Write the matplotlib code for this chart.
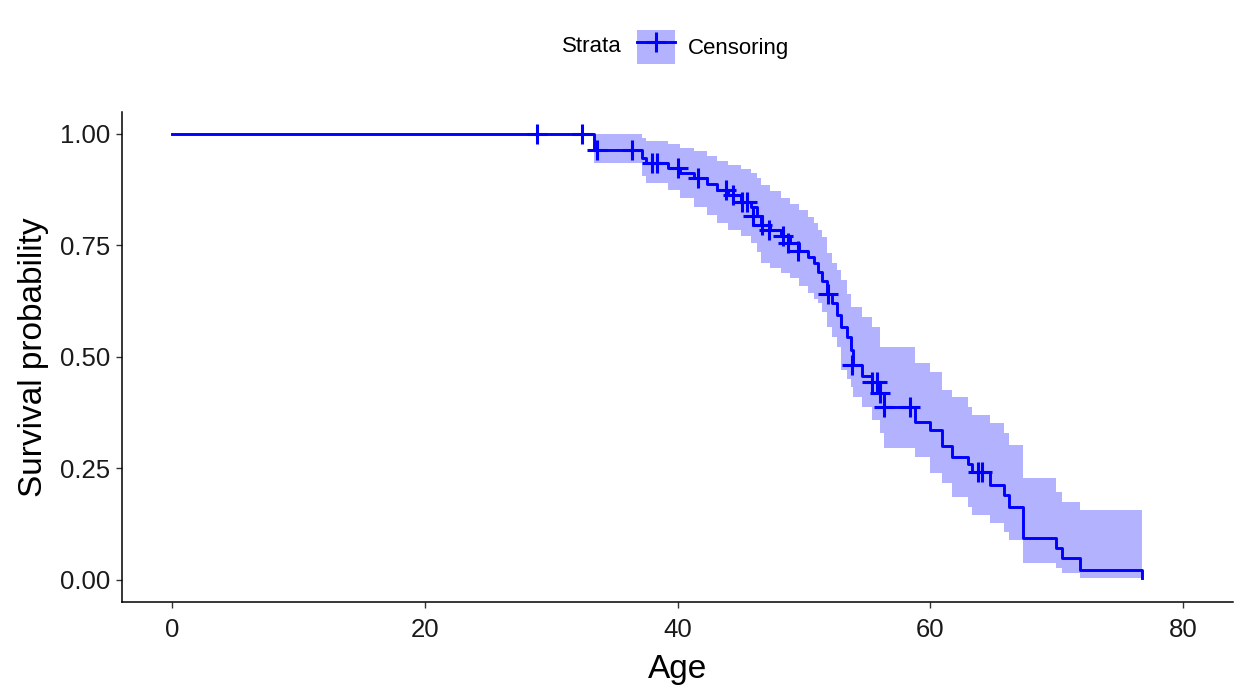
import numpy as np
import matplotlib
matplotlib.use("Agg")
import matplotlib.pyplot as plt
from matplotlib.patches import Patch
from matplotlib.lines import Line2D
from matplotlib.legend_handler import HandlerTuple

plt.rcParams['font.family'] = ['Liberation Sans', 'DejaVu Sans']

# Kaplan-Meier steps: time, survival, lower CI, upper CI
time = [0, 33.4, 37.2, 37.5, 39.2, 40.2, 41.3, 42.3, 43.1, 44.0, 45.0, 45.8,
        46.3, 46.6, 47.3, 48.2, 48.9, 49.6, 50.3, 50.8, 51.1, 51.4, 51.8, 52.2,
        52.6, 52.9, 53.4, 53.7, 53.9, 54.6, 55.4, 56.0, 56.3, 58.8, 60.0, 60.9,
        61.7, 63.0, 63.3, 64.7, 65.8, 66.2, 67.3, 69.9, 70.4, 71.8, 76.75]
surv = [1.000, 0.963, 0.946, 0.935, 0.924, 0.913, 0.900, 0.888, 0.875, 0.862,
        0.848, 0.836, 0.815, 0.796, 0.785, 0.770, 0.755, 0.738, 0.725, 0.710,
        0.690, 0.670, 0.640, 0.620, 0.595, 0.567, 0.545, 0.515, 0.482, 0.458,
        0.444, 0.419, 0.388, 0.355, 0.336, 0.300, 0.276, 0.260, 0.242, 0.213,
        0.190, 0.164, 0.094, 0.072, 0.049, 0.022, 0.005]
lower = [1.000, 0.935, 0.905, 0.890, 0.874, 0.857, 0.836, 0.818, 0.800, 0.785,
         0.770, 0.756, 0.735, 0.711, 0.700, 0.688, 0.676, 0.660, 0.643, 0.630,
         0.621, 0.600, 0.567, 0.545, 0.522, 0.471, 0.450, 0.433, 0.410, 0.388,
         0.359, 0.330, 0.296, 0.276, 0.240, 0.217, 0.186, 0.164, 0.146, 0.128,
         0.108, 0.090, 0.038, 0.027, 0.016, 0.004, 0.004]
upper = [1.000, 1.000, 0.991, 0.984, 0.978, 0.969, 0.962, 0.950, 0.940, 0.930,
         0.922, 0.912, 0.900, 0.885, 0.872, 0.856, 0.842, 0.830, 0.814, 0.800,
         0.785, 0.769, 0.733, 0.711, 0.695, 0.673, 0.640, 0.612, 0.612, 0.590,
         0.567, 0.522, 0.522, 0.487, 0.466, 0.426, 0.410, 0.388, 0.370, 0.352,
         0.330, 0.303, 0.229, 0.197, 0.175, 0.157, 0.157]

# censored observations
cens_t = [28.9, 32.4, 33.6, 36.4, 38.0, 38.4, 40.0, 41.6, 43.8, 44.4, 45.1,
          45.5, 46.0, 46.7, 47.2, 48.3, 48.7, 49.5, 51.9, 53.8, 55.4, 55.8,
          56.0, 56.3, 58.4, 63.8, 64.1]
cens_s = [1.000, 1.000, 0.963, 0.963, 0.935, 0.935, 0.924, 0.900, 0.875, 0.862,
          0.848, 0.848, 0.815, 0.796, 0.785, 0.770, 0.755, 0.738, 0.640, 0.482,
          0.444, 0.444, 0.419, 0.388, 0.388, 0.242, 0.242]

col = '#0000FF'

fig = plt.figure(figsize=(12.45, 6.91), dpi=100)
ax = fig.add_axes([0.098, 0.129, 0.892, 0.709])

ax.fill_between(time, lower, upper, step='post', color=col, alpha=0.3, lw=0)
ax.step(time, surv, where='post', color=col, lw=2.1)
ax.plot(cens_t, cens_s, ls='none', marker='+', ms=14, mew=2.2, color=col)

ax.set_xlim(-3.96, 83.9)
ax.set_ylim(-0.049, 1.049)
ax.set_xticks([0, 20, 40, 60, 80])
ax.set_yticks([0, 0.25, 0.5, 0.75, 1.0])
ax.set_yticklabels(['0.00', '0.25', '0.50', '0.75', '1.00'])
ax.tick_params(labelsize=18.5, length=4.5, width=1, colors='#333333',
               labelcolor='#1a1a1a')
ax.tick_params(axis='x', pad=7)
ax.tick_params(axis='y', pad=4)
for s in ['top', 'right']:
    ax.spines[s].set_visible(False)
for s in ['left', 'bottom']:
    ax.spines[s].set_linewidth(1.1)
ax.set_xlabel('Age', fontsize=24, labelpad=9)
ax.set_ylabel('Survival probability', fontsize=24, labelpad=8)

# legend on top
fig.text(0.4996, 0.932, 'Strata', fontsize=16, ha='right', va='center')
h = (Patch(facecolor=col, alpha=0.3, lw=0),
     Line2D([], [], color=col, lw=2.1, marker='+', ms=14, mew=2.2))
fig.legend([h], ['Censoring'], handler_map={tuple: HandlerTuple(ndivide=1, pad=0)},
           loc='center left', bbox_to_anchor=(0.5116, 0.932), frameon=False,
           fontsize=16, borderpad=0, borderaxespad=0, handlelength=1.7,
           handleheight=2.0, handletextpad=0.6)

fig.savefig('out.png', dpi=100)
